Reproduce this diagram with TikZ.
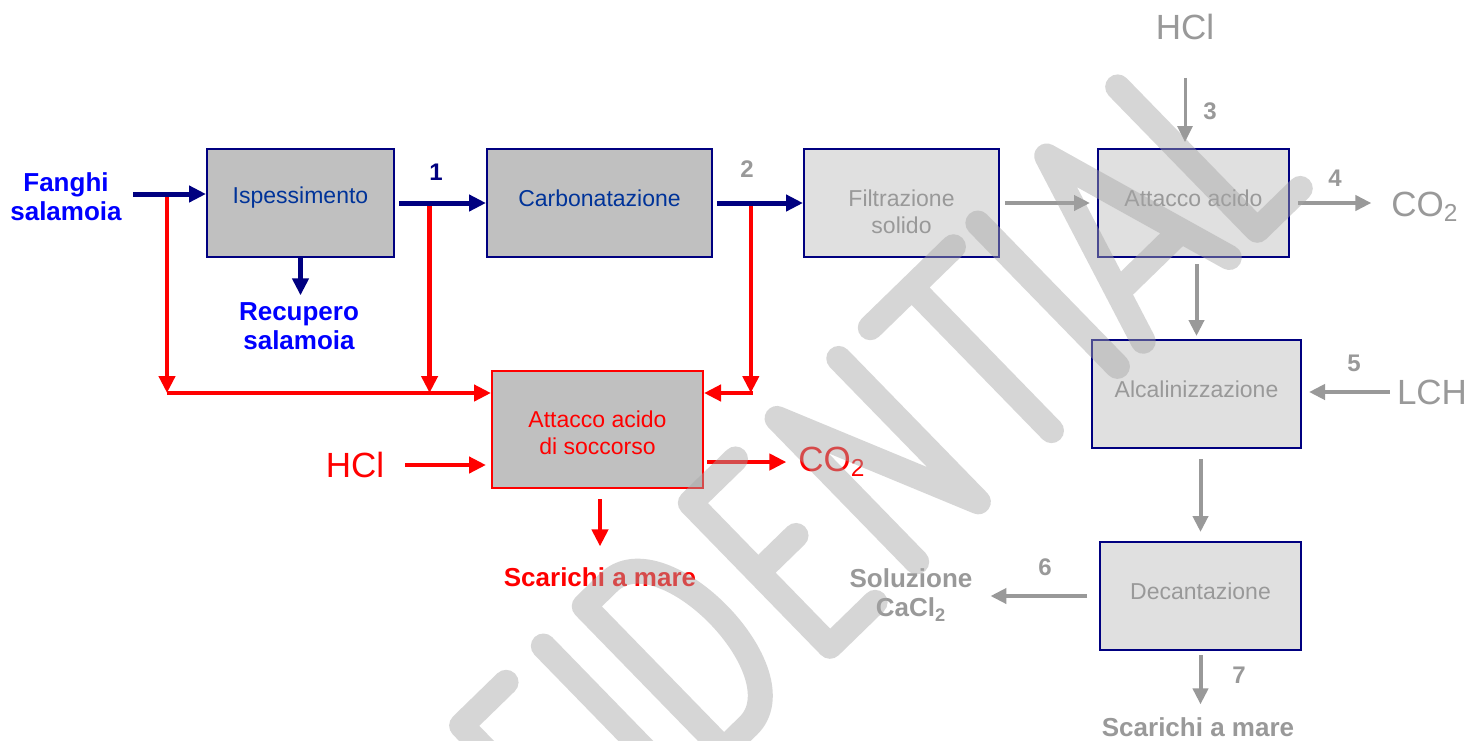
\documentclass[tikz,border=0pt]{standalone}
\usepackage{fontspec}
\setmainfont{Liberation Sans}
\usetikzlibrary{positioning,calc,arrows.meta}

\definecolor{navyline}{RGB}{0,0,128}
\definecolor{boxtext}{RGB}{0,51,153}
\definecolor{labelblue}{RGB}{0,0,255}
\definecolor{procred}{RGB}{255,0,0}
\definecolor{greyline}{RGB}{153,153,153}
\definecolor{boxdark}{RGB}{192,192,192}
\definecolor{boxlight}{RGB}{224,224,224}
\definecolor{stampgrey}{RGB}{166,166,166}

\begin{document}
\begin{tikzpicture}[
    x=0.5pt, y=-0.5pt,
    procbox/.style={rectangle, line width=1pt, minimum height=54pt, inner sep=2pt, align=center, font=\fontsize{11.5}{13.5}\selectfont},
    darkbox/.style={procbox, draw=navyline, fill=boxdark, text=boxtext},
    lightbox/.style={procbox, draw=navyline, fill=boxlight, text=greyline},
    redbox/.style={procbox, draw=procred, fill=boxdark, text=procred},
    liftup/.style={text depth=5pt},
    flowtag/.style={font=\fontsize{13}{14.5}\selectfont\bfseries, align=center},
    numtag/.style={font=\fontsize{12}{14}\selectfont\bfseries, text=greyline},
    chemtag/.style={font=\fontsize{17.5}{20}\selectfont},
    navyflow/.style={line width=2.5pt, draw=navyline, -{Triangle[length=8.5pt,width=8pt]}},
    redflow/.style={line width=2.2pt, draw=procred, -{Triangle[length=8.5pt,width=8pt]}},
    greyflow/.style={line width=2pt, draw=greyline, -{Triangle[length=8pt,width=7.5pt]}},
    ]
    \path[use as bounding box, fill=white] (0,0) rectangle (1477,740);

    % process blocks
    \node[darkbox,  liftup, text depth=7.5pt, minimum width=93.5pt] (isp) at (300.5,203) {Ispessimento};
    \node[darkbox,  liftup, minimum width=112.5pt, right=45.5pt of isp] (carb) {Carbonatazione};
    \node[lightbox, minimum width=97.5pt,  right=45pt of carb] (filt) {\rule{0pt}{17pt}Filtrazione\\solido};
    \node[lightbox, liftup, minimum width=95.5pt,  right=48.5pt of filt] (att) {Attacco acido};
    \node[lightbox, liftup, minimum width=104.5pt, below=40.5pt of att, xshift=1.5pt] (alc) {Alcalinizzazione};
    \node[lightbox, liftup, minimum width=100.5pt, below=46pt of alc, xshift=2pt] (dec) {Decantazione};
    \node[redbox,   minimum width=105.5pt, minimum height=58.5pt] (resc) at (597.5,429.5) {\rule{0pt}{11.4pt}Attacco acido\\di soccorso};

    % streams in and out
    \node[flowtag, text=labelblue] (fanghi) at (66,197) {Fanghi\\salamoia};
    \node[flowtag, text=labelblue] (rec) at (299,326) {Recupero\\salamoia};
    \node[chemtag, text=greyline] (hcltop) at (1185,27) {HCl};
    \node[chemtag, text=greyline] (co2top) at (1425,207) {CO\textsubscript{2}};
    \node[chemtag, text=greyline] (lch) at (1432,392) {LCH};
    \node[flowtag, text=greyline] (sol) at (911,595) {Soluzione\\CaCl\textsubscript{2}};
    \node[flowtag, text=greyline] (outgrey) at (1198,727) {Scarichi a mare};
    \node[chemtag, text=procred] (hclred) at (355,465) {HCl};
    \node[chemtag, text=procred] (co2red) at (832,462) {CO\textsubscript{2}};
    \node[flowtag, text=procred] (outred) at (600,577) {Scarichi a mare};

    % stream numbers
    \node[numtag, text=navyline] (n1) at (436,172) {1};
    \node[numtag] (n2) at (747,169) {2};
    \node[numtag] (n3) at (1210,111) {3};
    \node[numtag] (n4) at (1335,178) {4};
    \node[numtag] (n5) at (1354,363) {5};
    \node[numtag] (n6) at (1045,567) {6};
    \node[numtag] (n7) at (1239,675) {7};

    % branch points
    \coordinate (feed)    at (133,194);
    \coordinate (split0)  at (167,194);
    \coordinate (redrail) at (167,393);
    \coordinate (split1)  at ($(isp.east)!.38!(carb.west)$);
    \coordinate (split2)  at ($(carb.east)!.42!(filt.west)$);

    % emergency line arrows
    \draw[redflow]  (split0) -- (redrail);
    \draw[redflow]  (redrail) -- (redrail -| resc.west);
    \draw[redflow]  (split1) -- (split1 |- redrail);
    \draw[redflow]  (split2) -- (split2 |- redrail);
    \draw[redflow]  ([xshift=1pt]split2 |- redrail) -- (redrail -| resc.east);
    \draw[redflow, shorten <=7pt, shorten >=2.5pt]  (hclred.east) -- (hclred.east -| resc.west);
    \draw[redflow, shorten <=1.5pt, shorten >=2.5pt]  (co2red.west -| resc.east) -- (co2red.west);
    \draw[redflow, shorten <=5pt, shorten >=7pt]  (outred.north |- resc.south) -- (outred.north);

    % main line arrows
    \draw[navyflow] (feed) -- (feed -| isp.west);
    \draw[navyflow, shorten <=2pt] (isp.east) -- (carb.west);
    \draw[navyflow] (isp.south) -- (isp.south |- rec.north);
    \draw[navyflow, shorten <=2pt] (carb.east) -- (filt.west);

    % downstream arrows
    \draw[greyflow, shorten <=2.5pt, shorten >=3.5pt] (filt.east) -- (att.west);
    \draw[greyflow, line width=1.5pt, shorten <=15.5pt, shorten >=3pt] (hcltop.south) -- (hcltop.south |- att.north);
    \draw[greyflow, shorten <=4pt, shorten >=6.5pt] (att.east) -- (att.east -| co2top.west);
    \draw[greyflow, shorten <=3pt, shorten >=1.5pt] (att.south -| alc.north) -- (alc.north);
    \draw[greyflow, shorten >=3.5pt] (lch.west) -- (lch.west -| alc.east);
    \draw[greyflow, shorten <=5pt, shorten >=4.5pt] (alc.south -| dec.north) -- (dec.north);
    \draw[greyflow, shorten <=6pt, shorten >=5.5pt] (dec.west) -- (dec.west -| sol.east);
    \draw[greyflow, shorten <=2pt, shorten >=3pt] (dec.south) -- (dec.south |- outgrey.north);

    % watermark
    \draw[stampgrey, opacity=.45, line width=12.5pt, line cap=round, line join=round,
          cm={0.717,0.698,0.698,-0.717,(463,727)}]
        (0,-198) -- (0,2) -- (62,2)  (0,-95) -- (52,-95)
        (114,2) -- (114,-198)
        (171,2) -- (205,2) .. controls (280,2) and (280,-198) .. (205,-198) -- (171,-198) -- cycle
        (382,2) -- (319,2) -- (319,-198) -- (382,-198)  (319,-95) -- (372,-95)
        (440,-198) -- (440,2) -- (526,-198) -- (526,2)
        (570,2) -- (686,2)  (628,2) -- (628,-198)
        (720,2) -- (720,-198)
        (756,-198) -- (816,2) -- (876,-198)  (772,-145) -- (860,-145)
        (915,2) -- (915,-198) -- (975,-198);
\end{tikzpicture}
\end{document}
